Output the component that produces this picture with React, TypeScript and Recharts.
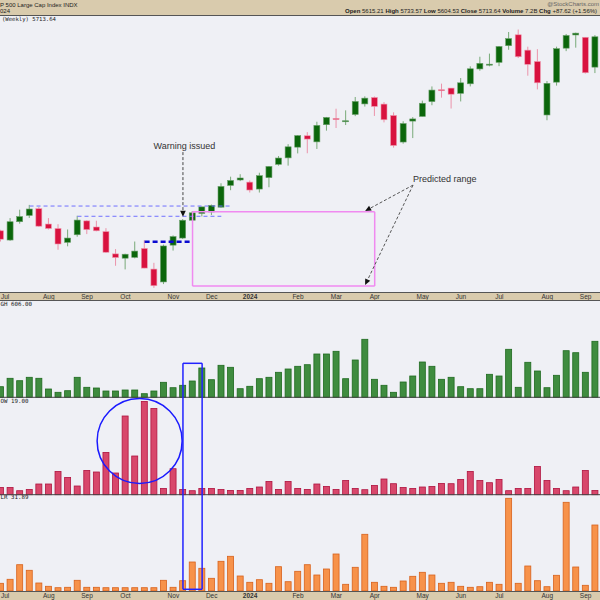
import React from 'react';
import { ComposedChart, Bar, XAxis, YAxis, ReferenceLine, ReferenceDot } from 'recharts';

const weekDates = [
  '2023-07-03','2023-07-10','2023-07-17','2023-07-24','2023-07-31','2023-08-07','2023-08-14','2023-08-21','2023-08-28','2023-09-04',
  '2023-09-11','2023-09-18','2023-09-25','2023-10-02','2023-10-09','2023-10-16','2023-10-23','2023-10-30','2023-11-06','2023-11-13',
  '2023-11-20','2023-11-27','2023-12-04','2023-12-11','2023-12-18','2023-12-26','2024-01-02','2024-01-08','2024-01-16','2024-01-22',
  '2024-01-29','2024-02-05','2024-02-12','2024-02-20','2024-02-26','2024-03-04','2024-03-11','2024-03-18','2024-03-25','2024-04-01',
  '2024-04-08','2024-04-15','2024-04-22','2024-04-29','2024-05-06','2024-05-13','2024-05-20','2024-05-28','2024-06-03','2024-06-10',
  '2024-06-17','2024-06-24','2024-07-01','2024-07-08','2024-07-15','2024-07-22','2024-07-29','2024-08-05','2024-08-12','2024-08-19',
  '2024-08-26','2024-09-03','2024-09-09',
];

const opens = [
  4450,4394,4505,4543,4584,4491,4464,4380,4426,4510,
  4473,4445,4310,4284,4289,4343,4218,4140,4363,4406,
  4514,4555,4564,4593,4725,4758,4745,4703,4772,4853,
  4892,4957,5026,4989,5093,5131,5111,5155,5219,5258,
  5218,5149,4988,5115,5143,5233,5305,5315,5283,5341,
  5431,5459,5471,5572,5638,5545,5476,5152,5351,5557,
  5637,5623,5442,
];
const highs = [
  4456,4527,4578,4607,4594,4527,4490,4458,4541,4514,
  4511,4466,4339,4311,4385,4393,4256,4366,4422,4521,
  4569,4595,4609,4738,4778,4793,4755,4802,4842,4903,
  4975,5030,5048,5111,5140,5190,5180,5261,5265,5264,
  5230,5168,5114,5139,5239,5325,5342,5315,5376,5447,
  5505,5524,5570,5655,5670,5566,5551,5358,5566,5643,
  5651,5623,5636,
];
const lows = [
  4385,4389,4493,4528,4474,4458,4335,4356,4414,4430,
  4447,4316,4238,4216,4283,4223,4104,4127,4330,4400,
  4511,4537,4546,4590,4696,4751,4682,4682,4714,4845,
  4845,4919,4920,4946,5057,5073,5091,5145,5203,5146,
  5107,4954,4978,5012,5143,5211,5257,5191,5234,5325,
  5420,5447,5448,5547,5497,5390,5307,5120,5330,5539,
  5560,5403,5406,
];
const closes = [
  4399,4505,4536,4582,4478,4464,4370,4406,4515,4457,
  4450,4320,4288,4308,4327,4224,4117,4358,4415,4514,
  4559,4595,4604,4719,4755,4770,4697,4784,4840,4891,
  4959,5027,5006,5089,5137,5124,5117,5234,5254,5204,
  5123,4967,5100,5128,5223,5303,5304,5278,5347,5432,
  5465,5460,5567,5615,5505,5459,5347,5344,5554,5634,
  5648,5408,5626,
];

const newHighs = [
  106,190,166,200,190,83,50,66,200,100,
  93,63,63,73,73,36,63,150,96,120,
  163,293,176,320,300,86,110,186,200,250,
  283,310,326,433,433,460,186,373,580,180,
  120,50,153,213,353,310,180,200,106,86,
  86,230,213,480,100,350,263,96,220,466,
  446,250,560,
];
const newLows = [
  73,73,40,53,107,107,233,173,87,243,
  227,423,217,787,387,933,863,63,260,53,
  40,63,63,53,43,43,63,77,133,53,
  133,63,53,107,83,53,143,63,50,93,
  157,110,73,63,77,83,113,110,153,233,
  143,120,153,40,63,63,283,143,63,40,
  77,243,43,
];
const alrValues = [
  7.7,11.7,26.3,20.7,8,4.7,3.3,3.7,10.7,3.7,
  3.7,3.3,3.3,3.3,3.3,3.3,3.3,10.7,3.7,10.3,
  29,22.7,12.7,29.7,34.7,15,8.7,11.3,7.7,24.3,
  9.3,19.7,26.3,16,22,37,6.7,23.7,56.7,8.7,
  4.7,3.7,10,14.7,18.7,16,7.7,8.7,4.7,3.7,
  4.3,8.7,6.7,92.7,7.7,25,10.3,4.3,15.7,88.7,
  24,5.7,66,
];

const monthTickDates = ['2023-07-03','2023-08-07','2023-09-04','2023-10-02','2023-11-06','2023-12-04','2024-01-02','2024-02-05','2024-03-04','2024-04-01','2024-05-06','2024-06-03','2024-07-01','2024-08-05','2024-09-03'];
const monthTickLabels = ['Jul','Aug','Sep','Oct','Nov','Dec','2024','Feb','Mar','Apr','May','Jun','Jul','Aug','Sep'];

const rows = weekDates.map((date, i) => ({
  date,
  open: opens[i],
  high: highs[i],
  low: lows[i],
  close: closes[i],
  nh: newHighs[i],
  nl: newLows[i],
  alr: alrValues[i],
}));

const TAN = '#d9cbad';
const BG = '#eff0f5';
const FONT = '"Liberation Sans", Arial, sans-serif';
const MONO = '"DejaVu Sans Mono", monospace';
const CHART_LEFT = -4.4;

const Candle = (props: any) => {
  const { x, y, width, height, payload } = props;
  if (!payload) return null;
  const { open, close, high, low } = payload;
  const top = Math.min(y, y + height);
  const bot = Math.max(y, y + height);
  const ppu = (bot - top) / (high - low || 1);
  const yOf = (v: number) => top + (high - v) * ppu;
  const up = close >= open;
  const cx = x + width / 2;
  const bTop = yOf(Math.max(open, close));
  const bBot = yOf(Math.min(open, close));
  const bh = Math.max(bBot - bTop, 1);
  return (
    <g>
      <line x1={cx} x2={cx} y1={top} y2={bot} stroke={up ? '#79aa79' : '#eb93aa'} strokeWidth={1} />
      <rect x={cx - 3} y={bTop} width={6} height={bh} fill={up ? '#0b660b' : '#d8123f'} stroke={up ? '#6a9f6a' : '#ef98ae'} strokeWidth={0.6} />
    </g>
  );
};

const makeBar = (fill: string, edge: string) => (props: any) => {
  const { x, y, width, height } = props;
  if (!height || height <= 0) return null;
  const cx = x + width / 2;
  return <rect x={cx - 3} y={y} width={6} height={height} fill={fill} stroke={edge} strokeWidth={0.8} />;
};

const arrowShape = (color: string, dash: string) => (p: any) => {
  const { x1, y1, x2, y2 } = p;
  const dx = x2 - x1;
  const dy = y2 - y1;
  const len = Math.hypot(dx, dy) || 1;
  const ux = dx / len;
  const uy = dy / len;
  const hl = 6;
  const hw = 2.8;
  const bx = x2 - ux * hl;
  const by = y2 - uy * hl;
  return (
    <g>
      <line x1={x1} y1={y1} x2={bx} y2={by} stroke={color} strokeWidth={1} strokeDasharray={dash} />
      <polygon points={`${x2},${y2} ${bx - uy * hw},${by + ux * hw} ${bx + uy * hw},${by - ux * hw}`} fill="#111" />
    </g>
  );
};

const textShape = (text: string, anchor: 'start' | 'middle', dx: number) => (p: any) => (
  <text x={p.cx + dx} y={p.cy} textAnchor={anchor} dominantBaseline="central" fontSize={9} fontFamily={FONT} fill="#333">
    {text}
  </text>
);

const circleShape = (p: any) => (
  <circle cx={p.cx + 4.6} cy={p.cy} r={42.5} fill="none" stroke="#1a1aff" strokeWidth={1.5} />
);

const MonthTick = (props: any) => {
  const { x, y, payload } = props;
  const idx = monthTickDates.indexOf(payload.value);
  if (idx < 0) return null;
  const label = monthTickLabels[idx];
  const nearLeft = x + CHART_LEFT < 7;
  return (
    <text x={nearLeft ? -CHART_LEFT + 0.5 : x} y={y + 4.3} textAnchor={nearLeft ? 'start' : 'middle'} dominantBaseline="central"
      fontSize={6.5} fontFamily={FONT} fontWeight={label === '2024' ? 'bold' : 'normal'} fill="#333">
      {label}
    </text>
  );
};

const blueDash = { stroke: '#6f6fff', strokeWidth: 1, strokeDasharray: '4 3' };
const pink = { stroke: '#f08af0', strokeWidth: 1.5 };
const blueBox = { stroke: '#2222ff', strokeWidth: 1.5 };

const PriceChart = () => (
  <ComposedChart width={604} height={285} data={rows} margin={{ top: 0, right: 0, bottom: 0, left: 0 }}>
    <XAxis dataKey="date" ticks={monthTickDates} interval={0} tick={<MonthTick />} tickLine={false} axisLine={false}
      tickSize={0} tickMargin={0} height={8} />
    <YAxis hide type="number" domain={[4079, 5758]} allowDataOverflow />
    <Bar dataKey={(d: any) => [d.low, d.high]} barSize={7} shape={<Candle />} isAnimationActive={false} />
    <ReferenceLine segment={[{ x: '2023-07-24', y: 4600 }, { x: '2023-12-18', y: 4600 }]} {...blueDash} />
    <ReferenceLine segment={[{ x: '2023-08-28', y: 4538 }, { x: '2023-12-11', y: 4538 }]} {...blueDash} />
    <ReferenceLine segment={[{ x: '2023-10-16', y: 4384 }, { x: '2023-11-20', y: 4384 }]} stroke="#0a0ad0" strokeWidth={2.5} strokeDasharray="5 3" />
    <ReferenceLine segment={[{ x: '2023-11-20', y: 4565 }, { x: '2024-04-01', y: 4565 }]} {...pink} />
    <ReferenceLine segment={[{ x: '2023-11-20', y: 4115 }, { x: '2024-04-01', y: 4115 }]} {...pink} />
    <ReferenceLine segment={[{ x: '2023-11-20', y: 4565 }, { x: '2023-11-20', y: 4115 }]} {...pink} />
    <ReferenceLine segment={[{ x: '2024-04-01', y: 4565 }, { x: '2024-04-01', y: 4115 }]} {...pink} />
    <ReferenceLine segment={[{ x: '2023-11-13', y: 4927 }, { x: '2023-11-13', y: 4535 }]} shape={arrowShape('#444', '3 2')} />
    <ReferenceLine segment={[{ x: '2024-04-29', y: 4727 }, { x: '2024-03-25', y: 4570 }]} shape={arrowShape('#555', '3 2')} />
    <ReferenceLine segment={[{ x: '2024-04-29', y: 4727 }, { x: '2024-03-25', y: 4121 }]} shape={arrowShape('#555', '3 2')} />
    <ReferenceDot x="2023-11-13" y={4964} r={1} shape={textShape('Warning issued', 'middle', 1.5)} />
    <ReferenceDot x="2024-04-29" y={4764} r={1} shape={textShape('Predicted range', 'start', 0)} />
  </ComposedChart>
);

const IndicatorChart = () => (
  <ComposedChart width={604} height={300} data={rows} margin={{ top: 0, right: 0, bottom: 0, left: 0 }}>
    <XAxis xAxisId="h" dataKey="date" hide />
    <XAxis xAxisId="l" dataKey="date" hide />
    <XAxis xAxisId="a" dataKey="date" ticks={monthTickDates} interval={0} tick={<MonthTick />} tickLine={false} axisLine={false}
      tickSize={0} tickMargin={0} height={9} />
    <YAxis yAxisId="h" hide type="number" domain={[-1937, 973]} allowDataOverflow />
    <YAxis yAxisId="l" hide type="number" domain={[-963, 1947]} allowDataOverflow />
    <YAxis yAxisId="a" hide type="number" domain={[0, 291]} allowDataOverflow />
    <Bar xAxisId="h" yAxisId="h" dataKey="nh" barSize={7} shape={makeBar('#3f8c3f', '#1f6a1f')} isAnimationActive={false} />
    <Bar xAxisId="l" yAxisId="l" dataKey="nl" barSize={7} shape={makeBar('#d8476b', '#b01540')} isAnimationActive={false} />
    <Bar xAxisId="a" yAxisId="a" dataKey="alr" barSize={7} shape={makeBar('#f7924a', '#d8621c')} isAnimationActive={false} />
    <ReferenceLine xAxisId="h" yAxisId="h" y={0} stroke="#444" strokeWidth={1} />
    <ReferenceLine xAxisId="l" yAxisId="l" y={0} stroke="#444" strokeWidth={1} />
    <ReferenceDot xAxisId="l" yAxisId="l" x="2023-10-09" y={537} r={1} shape={circleShape} />
    <ReferenceLine xAxisId="a" yAxisId="a" segment={[{ x: '2023-11-13', y: 227.7 }, { x: '2023-11-27', y: 227.7 }]} {...blueBox} />
    <ReferenceLine xAxisId="a" yAxisId="a" segment={[{ x: '2023-11-13', y: 1.7 }, { x: '2023-11-27', y: 1.7 }]} {...blueBox} />
    <ReferenceLine xAxisId="a" yAxisId="a" segment={[{ x: '2023-11-13', y: 227.7 }, { x: '2023-11-13', y: 1.7 }]} {...blueBox} />
    <ReferenceLine xAxisId="a" yAxisId="a" segment={[{ x: '2023-11-27', y: 227.7 }, { x: '2023-11-27', y: 1.7 }]} {...blueBox} />
  </ComposedChart>
);

const txt = (left: number, top: number, size: number, family: string, extra: any = {}) => ({
  position: 'absolute' as const,
  left,
  top,
  fontSize: size,
  lineHeight: '7px',
  fontFamily: family,
  color: '#222',
  whiteSpace: 'nowrap' as const,
  ...extra,
});

export default function App() {
  return (
    <div style={{ position: 'fixed', left: 0, top: 0, width: 600, height: 600, overflow: 'hidden', background: BG }}>
      <div style={{ position: 'absolute', left: 0, top: 0, width: 600, height: 16, background: TAN, borderBottom: '1px solid #555', boxSizing: 'border-box' }} />
      <div style={{ position: 'absolute', left: 0, top: 292, width: 600, height: 9, background: TAN, borderTop: '1px solid #555', borderBottom: '1px solid #555', boxSizing: 'border-box' }} />
      <div style={{ position: 'absolute', left: 0, top: 591, width: 600, height: 9, background: TAN, borderTop: '1px solid #555', boxSizing: 'border-box' }} />

      <div style={txt(0, 1.5, 6, FONT)}>P 500 Large Cap Index INDX</div>
      <div style={txt(0, 8.2, 6, FONT)}>024</div>
      <div style={txt(0, 1, 6, FONT, { color: '#666', left: 'auto', right: 1 })}>@StockCharts.com</div>
      <div style={txt(345, 8.2, 6, FONT)}>
        <b>Open</b> 5615.21 <b>High</b> 5733.57 <b>Low</b> 5604.53 <b>Close</b> 5713.64 <b>Volume</b> 7.2B <b>Chg</b> +87.62 (+1.56%)
      </div>
      <div style={txt(2, 15.5, 5.6, MONO)}>(Weekly) 5713.64</div>
      <div style={txt(0.5, 300.5, 5.8, MONO)}>GH 606.00</div>
      <div style={txt(0.5, 397.5, 5.8, MONO)}>OW 19.00</div>
      <div style={txt(0.5, 493.5, 5.8, MONO)}>LR 31.89</div>

      <div style={{ position: 'absolute', left: CHART_LEFT, top: 15 }}>
        <PriceChart />
      </div>
      <div style={{ position: 'absolute', left: CHART_LEFT, top: 300 }}>
        <IndicatorChart />
      </div>
    </div>
  );
}
